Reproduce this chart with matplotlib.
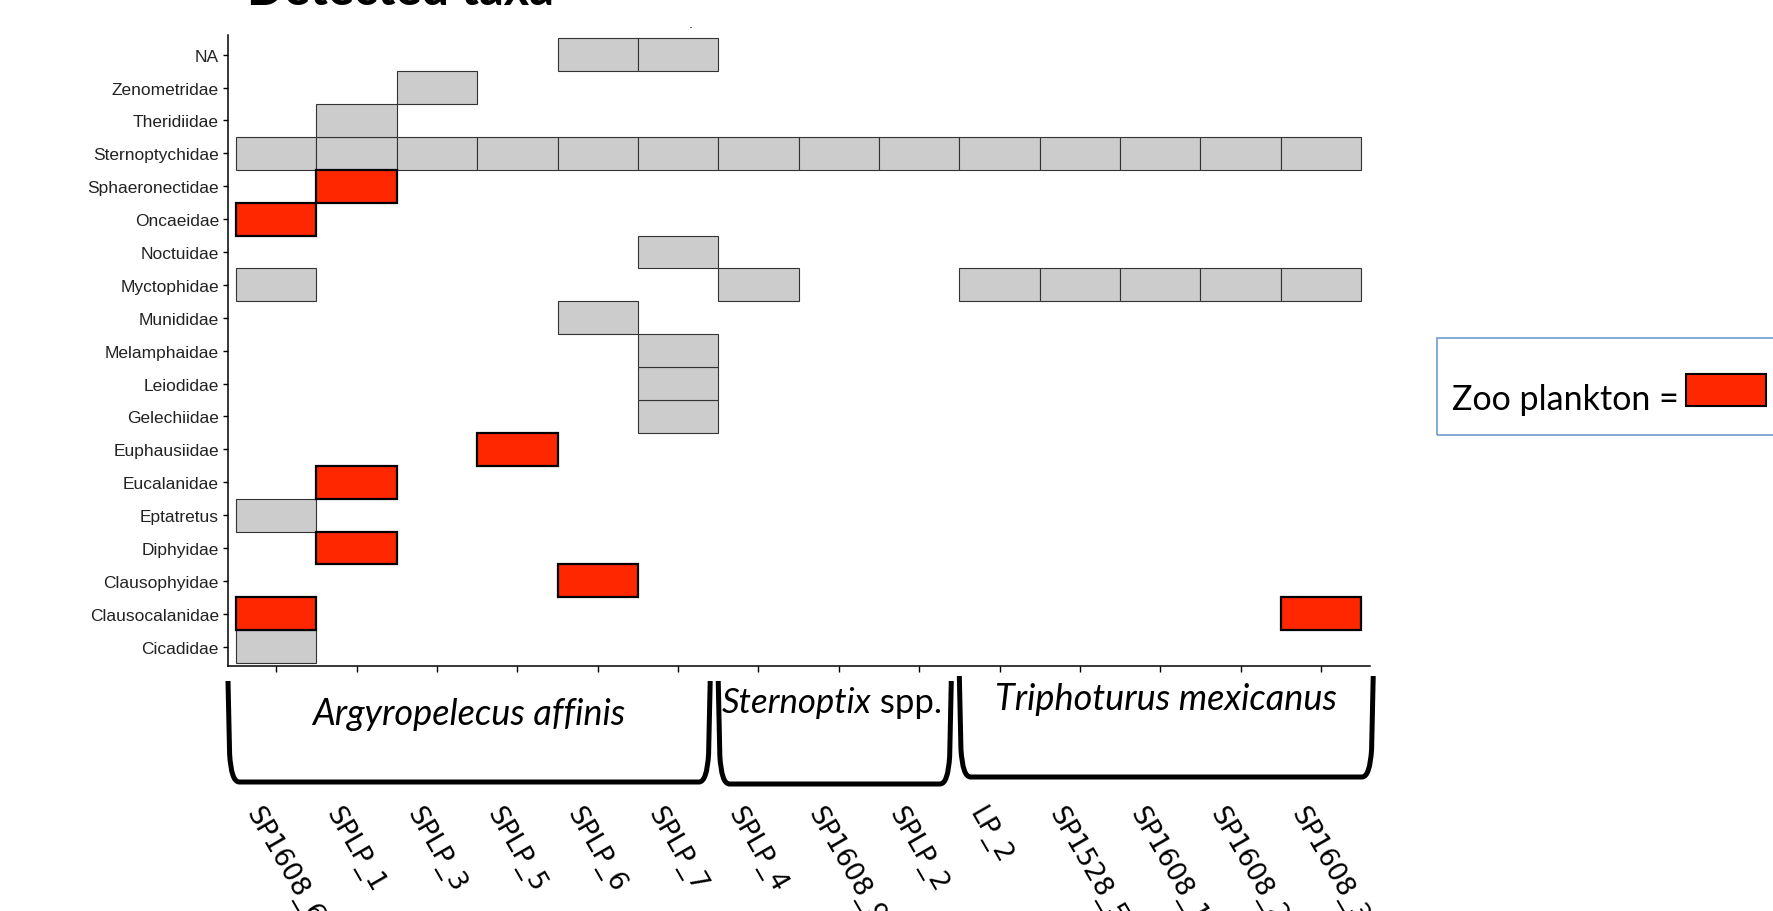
import matplotlib
matplotlib.use("Agg")
import matplotlib.pyplot as plt
from matplotlib.path import Path
from matplotlib.patches import PathPatch, Rectangle
from matplotlib.transforms import blended_transform_factory

# taxa, bottom row first (as drawn on the y axis)
taxa = ["Cicadidae", "Clausocalanidae", "Clausophyidae", "Diphyidae", "Eptatretus",
        "Eucalanidae", "Euphausiidae", "Gelechiidae", "Leiodidae", "Melamphaidae",
        "Munididae", "Myctophidae", "Noctuidae", "Oncaeidae", "Sphaeronectidae",
        "Sternoptychidae", "Theridiidae", "Zenometridae", "NA"]

samples = ["SP1608_6", "SPLP_1", "SPLP_3", "SPLP_5", "SPLP_6", "SPLP_7", "SPLP_4",
           "SP1608_9", "SPLP_2", "LP_2", "SP1528_5", "SP1608_1", "SP1608_2", "SP1608_3"]

# one string per taxon, one char per sample: g = detected, z = detected zoo plankton
presence = [
    "g.............",  # Cicadidae
    "z............z",  # Clausocalanidae
    "....z.........",  # Clausophyidae
    ".z............",  # Diphyidae
    "g.............",  # Eptatretus
    ".z............",  # Eucalanidae
    "...z..........",  # Euphausiidae
    ".....g........",  # Gelechiidae
    ".....g........",  # Leiodidae
    ".....g........",  # Melamphaidae
    "....g.........",  # Munididae
    "g.....g..ggggg",  # Myctophidae
    ".....g........",  # Noctuidae
    "z.............",  # Oncaeidae
    ".z............",  # Sphaeronectidae
    "gggggggggggggg",  # Sternoptychidae
    ".g............",  # Theridiidae
    "..g...........",  # Zenometridae
    "....gg........",  # NA
]

fish_groups = ["Argyropelecus affinis", "Sternoptix spp.", "Triphoturus mexicanus"]
group_first = [0, 6, 9]
group_last = [5, 8, 13]

W, H = 1773, 912
fig = plt.figure(figsize=(W / 100, H / 100), dpi=100)
ax = fig.add_axes([228 / W, 1 - 667 / H, 1142 / W, 631 / H])

gray_x, gray_y, zoo_x, zoo_y = [], [], [], []
for row, codes in enumerate(presence):
    for col, c in enumerate(codes):
        if c == "g":
            gray_x.append(col)
            gray_y.append(row)
        elif c == "z":
            zoo_x.append(col)
            zoo_y.append(row)

ax.bar(gray_x, 1, width=1, bottom=[y - 0.5 for y in gray_y], color="#cccccc",
       edgecolor="#333333", linewidth=0.8, zorder=2)
ax.bar(zoo_x, 1, width=1, bottom=[y - 0.5 for y in zoo_y], color="#ff2700",
       edgecolor="black", linewidth=1.6, zorder=3)

ax.set_xlim(-0.6, len(samples) - 0.39)
ax.set_ylim(-0.59, len(taxa) - 0.4)
ax.set_yticks(range(len(taxa)))
ax.set_yticklabels(taxa, family="Liberation Sans", fontsize=12.5, color="#222222")
ax.set_xticks(range(len(samples)))
ax.set_xticklabels([])
ax.tick_params(axis="y", length=3.5, width=1, pad=3)
ax.tick_params(axis="x", length=4, width=1)
for s in ["top", "right"]:
    ax.spines[s].set_visible(False)
for s in ["left", "bottom"]:
    ax.spines[s].set_linewidth(1.1)

# sample names below the brackets
trans_xf = blended_transform_factory(ax.transData, fig.transFigure)
for i, name in enumerate(samples):
    ax.text(i - 0.17, 1 - 803 / H, name, transform=trans_xf, rotation=-60,
            rotation_mode="anchor", ha="left", va="top", fontsize=19,
            family="DejaVu Sans", clip_on=False)

# group brackets
bracket_tops = [682, 682, 677]
bracket_bots = [783, 785, 778]
for k in range(len(fish_groups)):
    xl = group_first[k] - 0.5 - (0.1 if k == 0 else 0)
    xr = group_last[k] + 0.4 + (0.25 if k == 2 else 0)
    yt = 1 - bracket_tops[k] / H
    yb = 1 - bracket_bots[k] / H
    dy = 28 / H
    dx = 0.14
    verts = [(xl, yt), (xl + 0.02, yb + dy), (xl + 0.04, yb), (xl + dx, yb),
             (xr - dx, yb), (xr - 0.04, yb), (xr - 0.02, yb + dy), (xr, yt)]
    codes = [Path.MOVETO, Path.LINETO, Path.CURVE3, Path.CURVE3,
             Path.LINETO, Path.CURVE3, Path.CURVE3, Path.LINETO]
    ax.add_patch(PathPatch(Path(verts, codes), transform=trans_xf, fill=False,
                           lw=3.6, edgecolor="black", clip_on=False,
                           joinstyle="round", capstyle="butt"))

ax.text((group_first[0] - 0.6 + group_last[0] + 0.4) / 2, 1 - 725 / H, fish_groups[0],
        transform=trans_xf, ha="center", va="baseline", fontsize=26,
        family="Lato", style="italic", clip_on=False)
t1 = ax.text(5.54, 1 - 713 / H, fish_groups[1].split(" ")[0], transform=trans_xf,
             ha="left", va="baseline", fontsize=25, family="Lato", style="italic",
             clip_on=False)
ax.annotate(" " + fish_groups[1].split(" ")[1], xy=(1, 0), xycoords=t1,
            ha="left", va="bottom", fontsize=25, family="Lato", annotation_clip=False)
ax.text((group_first[2] - 0.5 + group_last[2] + 0.65) / 2, 1 - 710 / H, fish_groups[2],
        transform=trans_xf, ha="center", va="baseline", fontsize=26,
        family="Lato", style="italic", clip_on=False)

# title, mostly off the top of the slide
fig.text(247 / W, 1 - 5 / H, "Detected taxa", ha="left", va="baseline",
         fontsize=35, family="Lato", weight="bold")
fig.text(691 / W, 1 - 28 / H, ".", fontsize=9, ha="center", va="baseline")

# legend box
fig.patches.append(Rectangle((1437 / W, 1 - 436 / H), 400 / W, 97 / H,
                             transform=fig.transFigure, fill=False,
                             edgecolor="#6f9bd0", lw=1.2))
fig.patches.append(Rectangle((1686 / W, 1 - 407 / H), 80 / W, 32 / H,
                             transform=fig.transFigure, facecolor="#ff2700",
                             edgecolor="black", lw=1.5))
fig.text(1452 / W, 1 - 410 / H, "Zoo plankton =", ha="left", va="baseline",
         fontsize=24.5, family="Lato")

fig.savefig("out.png", dpi=100, facecolor="white")
